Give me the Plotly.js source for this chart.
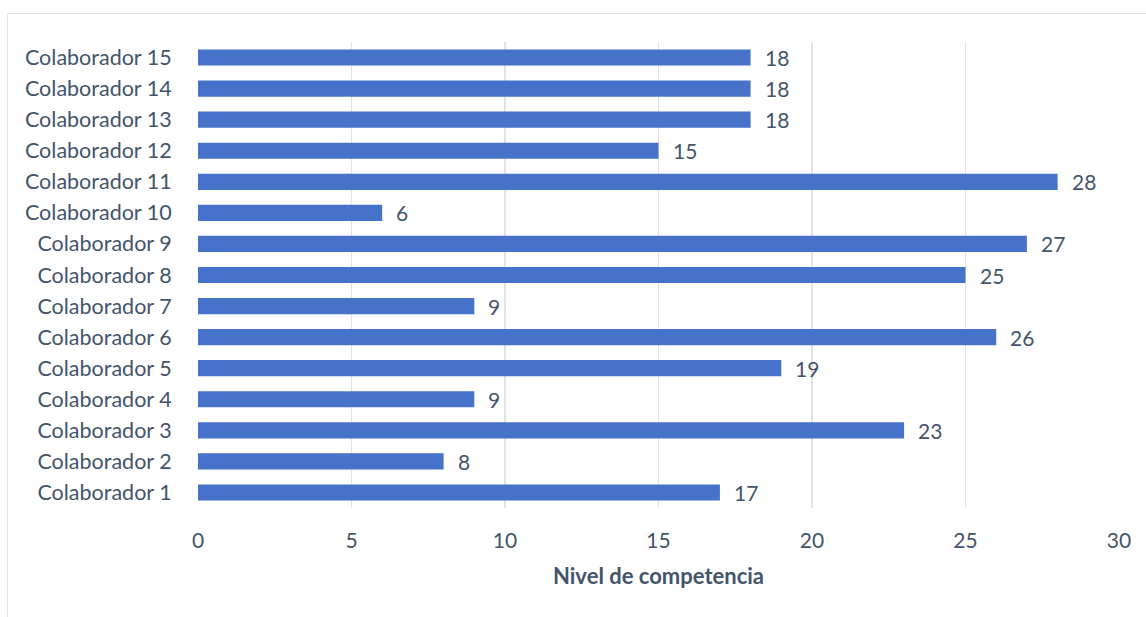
<!DOCTYPE html>
<html>
<head>
<meta charset="utf-8">
<script src="https://cdn.plot.ly/plotly-3.0.1.min.js"></script>
<style>
  html, body { margin: 0; padding: 0; background: #fff; }
  #frame { position: absolute; left: 7px; top: 13px; width: 1139px; height: 604px;
           border-top: 1.5px solid #e2e4e8; border-left: 1.5px solid #e2e4e8; box-sizing: border-box; }
  #chart { position: absolute; left: 0; top: 0; width: 1146px; height: 617px; }
</style>
</head>
<body>
<div id="frame"></div>
<div id="chart"></div>
<script>
const categories = ["Colaborador 1","Colaborador 2","Colaborador 3","Colaborador 4","Colaborador 5",
  "Colaborador 6","Colaborador 7","Colaborador 8","Colaborador 9","Colaborador 10",
  "Colaborador 11","Colaborador 12","Colaborador 13","Colaborador 14","Colaborador 15"];
const values = [17, 8, 23, 9, 19, 26, 9, 25, 27, 6, 28, 15, 18, 18, 18];
const xTicks = [0, 5, 10, 15, 20, 25, 30];
const xTitle = "Nivel de competencia";

const textColor = "#44546a";
const fontFam = "Lato, 'Open Sans', sans-serif";
const fs = 21;

const trace = {
  type: "bar",
  orientation: "h",
  y: categories,
  x: values,
  width: 0.52,
  marker: { color: "#4673c9" },
  hoverinfo: "x+y"
};

const annotations = values.map((v, i) => ({
  x: v, y: categories[i], xref: "x", yref: "y",
  text: String(v), showarrow: false, xanchor: "left", yanchor: "middle",
  xshift: 12, font: { family: fontFam, size: fs, color: textColor }
}));

const layout = {
  width: 1146, height: 617,
  margin: { l: 198, r: 27, t: 42, b: 109 },
  paper_bgcolor: "rgba(0,0,0,0)",
  plot_bgcolor: "rgba(0,0,0,0)",
  showlegend: false,
  xaxis: {
    range: [0, 30],
    tickvals: xTicks,
    ticktext: xTicks.map(String),
    showgrid: true, gridcolor: "#dfe2e7", gridwidth: 1.5,
    zeroline: false, showline: false,
    ticks: "outside", ticklen: 14, tickcolor: "rgba(0,0,0,0)",
    tickfont: { family: fontFam, size: fs, color: textColor },
    title: { text: xTitle, font: { family: fontFam, size: 22, color: textColor, weight: "bold" }, standoff: 17 }
  },
  yaxis: {
    type: "category",
    categoryorder: "array", categoryarray: categories,
    showgrid: false, zeroline: false, showline: false,
    ticks: "outside", ticklen: 21, tickcolor: "rgba(0,0,0,0)",
    tickfont: { family: fontFam, size: 21.5, color: textColor },
    automargin: false
  },
  annotations: annotations,
  font: { family: fontFam, color: textColor }
};

Plotly.newPlot("chart", [trace], layout, { displayModeBar: false, staticPlot: true });
</script>
</body>
</html>
